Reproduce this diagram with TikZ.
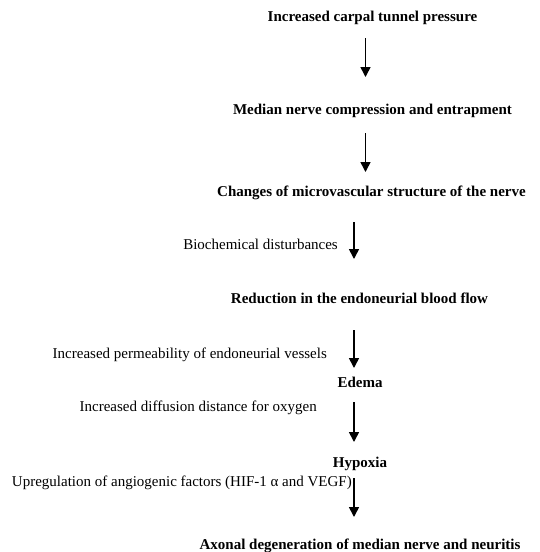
\documentclass[tikz,border=0pt]{standalone}
\usepackage{fontspec}
\setmainfont{Liberation Serif}
\usetikzlibrary{arrows.meta, positioning}
\tikzset{stage/.style={font=\fontsize{15}{18}\selectfont\bfseries,inner sep=0pt,anchor=base},
         cause/.style={font=\fontsize{15}{18}\selectfont,inner sep=0pt,anchor=base east},
         arrow/.style={-{Triangle[length=10pt,width=10pt]},line width=1.6pt}}

\begin{document}
\begin{tikzpicture}[x=1pt,y=-1pt]
    \useasboundingbox (0,0) rectangle (540,552);
    % Stages
    \node[stage] (pressure) at (372.5,21) {Increased carpal tunnel pressure};
    \node[stage] (compress) at (372.5,114) {Median nerve compression and entrapment};
    \node[stage] (micro) at (371.5,196) {Changes of microvascular structure of the nerve};
    \node[stage] (flow) at (359.5,303) {Reduction in the endoneurial blood flow};
    \node[stage] (edema) at (360,387) {Edema};
    \node[stage] (hypoxia) at (360,467) {Hypoxia};
    \node[stage] (axonal) at (360,549) {Axonal degeneration of median nerve and neuritis};
    % Causes beside the arrows
    \node[cause] (biochem) at (338,249) {Biochemical disturbances};
    \node[cause] (perm) at (327,358) {Increased permeability of endoneurial vessels};
    \node[cause] (diffusion) at (317,411) {Increased diffusion distance for oxygen};
    \node[cause] (upreg) at (352,486) {Upregulation of angiogenic factors (HIF-1 α and VEGF)};
    % Arrow ends
    \coordinate (a1) at (365.5,38);  \coordinate (b1) at (365.5,77);
    \coordinate (a2) at (365.5,133); \coordinate (b2) at (365.5,172);
    \coordinate (a3) at (354,222); \coordinate (b3) at (354,259);
    \coordinate (a4) at (354,330); \coordinate (b4) at (354,368);
    \coordinate (a5) at (354,402); \coordinate (b5) at (354,442);
    \coordinate (a6) at (354,478); \coordinate (b6) at (354,517);
    \draw[arrow] (a1) -- (b1);
    \draw[arrow] (a2) -- (b2);
    \draw[arrow] (a3) -- (b3);
    \draw[arrow] (a4) -- (b4);
    \draw[arrow] (a5) -- (b5);
    \draw[arrow] (a6) -- (b6);
\end{tikzpicture}
\end{document}
